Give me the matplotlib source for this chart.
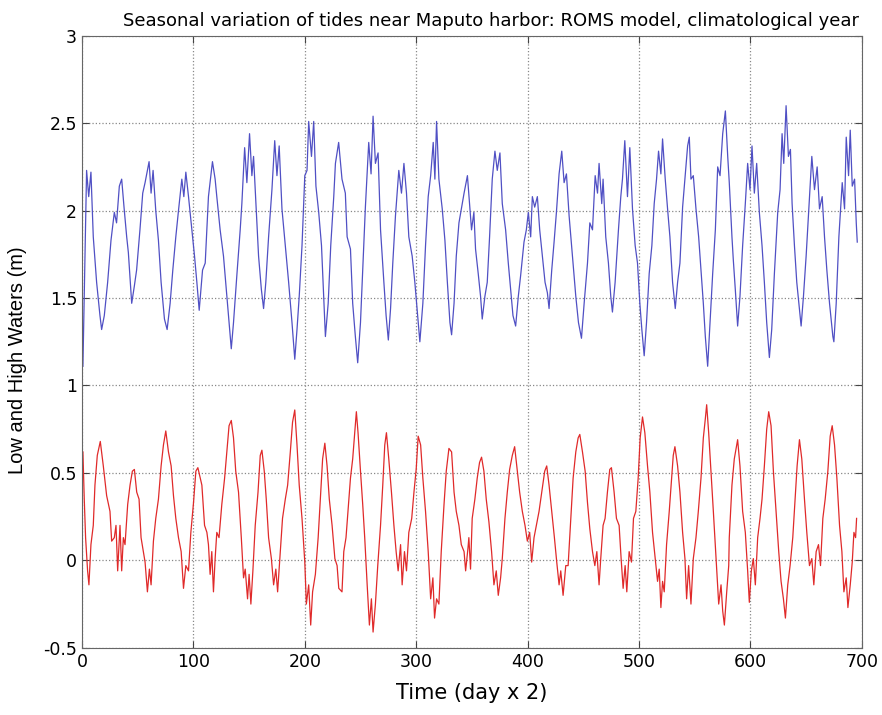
import matplotlib
matplotlib.use("Agg")
import matplotlib.pyplot as plt

# high waters (blue): time index, level (m)
high_t = [0.8, 4.1, 6, 8, 10.1, 13.1, 16.1, 17.6, 20, 23, 26, 29, 31, 33.5, 35.6, 37.7, 40.1, 41.6,
          44.6, 47, 49, 52, 54.5, 56.6, 58.1, 60.2, 62, 63.8, 66.2, 68.6, 71, 74, 76.4, 79.1, 81.5,
          84.2, 86.6, 89.6, 91.4, 93.2, 95.6, 98.6, 101, 103.1, 105.2, 108.2, 110.6,
          113.5, 117.1, 119.5, 121, 124, 127, 130, 132, 134, 136, 139, 142, 143.5, 146, 148, 150.4,
          152.5, 154, 156.4, 158.5, 161, 163, 165, 167.5, 170.5, 173, 175, 177, 179.5, 182.5, 185.5,
          188.5, 191, 193, 195, 197.5, 200, 202, 203.5, 206, 208, 210, 212.5, 215, 217, 218.5, 221,
          223.3, 226, 227.5,
          230.4, 233.4, 236.4, 238, 241, 243, 245.4, 247.5, 250, 252, 254.4, 257.4, 259.5, 261.3,
          263.4, 265.8, 268, 271, 273, 275, 277, 279, 281.4, 284.4, 286.8, 289, 291.3, 293.4, 296.4,
          298.8, 301, 303.3, 306, 308.4, 310.8, 313, 315.3, 316.8, 318.3, 320.4, 323.4, 325.8, 328,
          330.3, 331.8, 334, 336, 338.4, 340.8, 343, 346,
          349.7, 351.8, 353.3, 355.7, 357.8, 359.3, 361.7, 363.8, 365.9, 368.3, 370.7, 372.8, 375.2,
          377.3, 380.3, 382.7, 384.8, 386.9, 389.3, 391.7, 393.8, 396.8, 398.9, 400.7, 402.8, 404.3,
          406.4, 408.8, 410.9, 413.3, 415.7, 417.8, 419.3, 421.7, 423.8, 425.9, 428.3, 430.7, 432.8,
          434.9, 437.3, 440.3, 443.3, 445.7, 448.4, 450.8, 453.8, 455.9, 458.3, 460.7, 462.8,
          464.2, 466.6, 467.8, 470.2, 472.6, 474.7, 476.2, 478.6, 481.6, 483.7, 485.2, 487.3, 489.7,
          491.8, 494.2, 496.6, 498.7, 500.8, 502.6, 504.7, 506.8, 509.2, 511.6, 513.7, 515.8, 517.6,
          519.7, 521.2, 523.6, 525.7, 527.8, 530.2, 532.6, 534.7, 536.8, 539.2, 541.6, 543.7, 545.2,
          546.7, 548.8, 551.2, 553.6, 555.7, 557.8, 559.6, 561.7, 563.8, 566.2, 568.6, 570.7, 572.8,
          575.2, 577.6, 579.7,
          581.1, 583.5, 584.7, 586.5, 588.6, 590.7, 593.1, 595.5, 597.6, 599.7, 601.5, 603.6, 605.7,
          608.1, 610.5, 612.6, 614.7, 617.1, 619.2, 621.6, 624.6, 626.7, 628.5, 630, 632.1, 634.2,
          636, 637.5, 639.6, 641.7, 644.1, 645.6, 647.7, 650.1, 653.1, 655.2, 657.6, 660, 662.1,
          664.5, 666.6, 668.7, 671.1, 674.1, 675, 677.1, 679.5, 682.5, 684.6, 686.1, 688.2, 689.7,
          691.5, 693.6, 695.1, 696]
high_v = [1.11, 2.23, 2.08, 2.22, 1.85, 1.59, 1.40, 1.32, 1.40, 1.59, 1.83, 1.99, 1.93, 2.14, 2.18, 2.02, 1.85, 1.76,
          1.47, 1.57, 1.66, 1.89, 2.10, 2.16, 2.21, 2.28, 2.10, 2.23, 2.00, 1.83, 1.59, 1.38, 1.32, 1.47, 1.66,
          1.85, 2.00, 2.18, 2.08, 2.22, 2.08, 1.89, 1.74, 1.59, 1.43, 1.66, 1.70,
          2.08, 2.28, 2.18, 2.08, 1.89, 1.74, 1.51, 1.36, 1.21, 1.36, 1.63, 1.89, 2.04, 2.36, 2.16, 2.44,
          2.20, 2.31, 2.01, 1.74, 1.55, 1.44, 1.59, 1.85, 2.12, 2.40, 2.20, 2.37, 2.01, 1.80, 1.59,
          1.36, 1.15, 1.32, 1.51, 1.80, 2.20, 2.23, 2.51, 2.31, 2.51, 2.14, 1.99, 1.80, 1.51, 1.28, 1.47,
          1.80, 2.08, 2.27,
          2.39, 2.18, 2.10, 1.85, 1.78, 1.47, 1.28, 1.13, 1.36, 1.66, 2.02, 2.39, 2.21, 2.54,
          2.27, 2.33, 1.89, 1.59, 1.40, 1.26, 1.44, 1.70, 1.97, 2.23, 2.10, 2.27, 2.10, 1.85, 1.74,
          1.59, 1.42, 1.25, 1.47, 1.80, 2.08, 2.20, 2.39, 2.18, 2.51, 2.18, 2.01, 1.83, 1.59,
          1.36, 1.29, 1.47, 1.74, 1.93, 2.02, 2.10, 2.20,
          1.89, 1.99, 1.78, 1.64, 1.51, 1.38, 1.51, 1.59, 1.85, 2.18, 2.34, 2.23, 2.33,
          2.04, 1.89, 1.70, 1.55, 1.40, 1.34, 1.51, 1.63, 1.82, 1.89, 1.99, 1.85, 2.08,
          2.02, 2.08, 1.89, 1.74, 1.59, 1.53, 1.44, 1.66, 1.82, 1.99, 2.21, 2.34, 2.16,
          2.21, 1.97, 1.74, 1.51, 1.36, 1.27, 1.47, 1.70, 1.93, 1.89, 2.20, 2.10,
          2.27, 2.04, 2.18, 1.85, 1.70, 1.51, 1.42, 1.59, 1.89, 2.08, 2.18, 2.40, 2.08,
          2.36, 2.01, 1.80, 1.70, 1.47, 1.32, 1.17, 1.36, 1.64, 1.80, 2.04, 2.18, 2.34,
          2.21, 2.41, 2.18, 2.01, 1.85, 1.59, 1.44, 1.59, 1.70, 2.02, 2.21, 2.37, 2.42,
          2.18, 2.20, 2.01, 1.85, 1.66, 1.47, 1.28, 1.11, 1.36, 1.64, 1.89, 2.25, 2.20,
          2.44, 2.57, 2.31,
          2.16, 1.85, 1.72, 1.55, 1.34, 1.51, 1.80, 2.04, 2.27, 2.12, 2.37, 2.10, 2.27,
          1.99, 1.80, 1.59, 1.36, 1.16, 1.32, 1.64, 1.99, 2.12, 2.44, 2.27, 2.60, 2.31,
          2.35, 2.04, 1.80, 1.59, 1.44, 1.34, 1.51, 1.74, 2.08, 2.31, 2.12, 2.25, 2.01,
          2.08, 1.85, 1.66, 1.47, 1.28, 1.25, 1.47, 1.85, 2.16, 2.01, 2.42, 2.20, 2.46,
          2.14, 2.18, 1.93, 1.82]

# low waters (red)
low_t = [0.8, 2, 3.2, 5, 6.2, 8, 10.1, 11.6, 13.7, 16.4, 19.1, 22.1, 25.1, 26.6, 29, 30.5, 32, 34.1,
         35.6, 37.1, 38.6, 41, 43.1, 45.2, 47, 49.1, 51.2, 53, 55.1, 56.6, 58.7, 60.5, 62, 64.1,
         66.2, 68.6, 71, 73.1, 75.2, 77.6, 80, 82.1, 84.2, 86.6, 89, 91.1, 93.2, 95.6, 97.7, 100.1,
         102.2, 104, 106.1, 107.6, 110, 112.1,
         113.5, 115, 116.5, 118, 119.5, 121, 123, 125.5, 128, 130, 132, 134, 136, 138, 140.5, 143,
         145, 146.5, 148.6, 150, 151.6, 153.4, 155.5, 158, 160, 161.5, 163.6, 165.4, 167.5, 170,
         172, 174, 175.6, 178, 180, 182.5, 184.6, 187, 189, 191, 193, 195, 197.5, 200, 201.4, 203.5,
         205.3, 207, 209.5, 212, 214, 216, 218, 220, 222, 224.5, 227, 229, 230.5,
         233.4, 235, 237, 238.8, 241, 243, 244.8, 246.3, 247.8, 250, 252, 253.8, 256, 258, 259.8,
         261.3, 263.4, 265.5, 268, 270, 271.8, 273.3, 275.4, 277.8, 280, 282, 283.8, 286, 287.4,
         289.5, 291.3, 293.4, 296, 298, 300, 301.8, 304, 306, 308.4, 310.8, 313, 315, 316.5, 318.3,
         320.4, 322.5, 325, 327, 329.4, 331.8, 334, 336, 338.4, 340.5, 343, 344.4, 346.5,
         347.3, 348.8, 350.3, 352.7, 354.8, 356.9, 358.7, 360.8, 362.9, 365.3, 367.7, 369.8, 371.9,
         373.7, 375.8, 377.3, 379.7, 381.8, 383.9, 386.3, 388.4, 390.8, 392.9, 395.3, 397.7, 399.8,
         401.9, 403.7, 405.8, 407.9, 410.3, 412.7, 415.4, 417.2, 419.3, 421.7, 424.1, 426.2, 428.3,
         429.8, 431.9, 434.3, 436.4, 438.8, 440.9, 443.3, 445.4, 446.9, 449.3, 451.7, 453.8, 455.9,
         458.3, 460.4, 462.2,
         464.2, 465.7, 467.8, 469.6, 471.7, 473.8, 475.3, 477.7, 479.8, 482.2, 484, 485.8, 487.6,
         489.1, 491.2, 493.3, 495.1, 497.2, 499.3, 501.1, 503.2, 505.3, 507.7, 509.8, 512.2, 514.6,
         516.7, 518.2, 519.7, 521.2, 522.7, 524.8, 527.2, 529.3, 530.8, 532.3, 534.7, 536.8, 539.2,
         541.3, 542.8, 544.6, 546.7, 548.8, 551.2, 553.3, 555.7, 557.8, 559.6, 560.8, 562.6, 564.7,
         566.8, 569.2, 571.6, 573.7, 575.2, 576.7, 578.8, 580.6,
         581.1, 583.5, 585.6, 588.6, 590.7, 593.1, 595.5, 597.6, 599.1, 600.9, 602.7, 604.5, 606.6,
         608.7, 610.5, 612.6, 614.7, 616.5, 618.6, 620.7, 623.1, 625.5, 627.6, 629.7, 631.5, 633.6,
         635.7, 638.1, 640.2, 642, 644.1, 646.2, 648.6, 650.7, 653.1, 655.2, 657, 659.1, 661.2, 663,
         665.1, 667.2, 669.6, 671.7, 673.5, 675.6, 677.7, 680.1, 682.2, 684, 686.1, 687.6, 689.7,
         691.5, 693, 694.5, 695.4]
low_v = [0.62, 0.35, 0.13, -0.06, -0.14, 0.09, 0.20, 0.43, 0.60, 0.68, 0.54, 0.37, 0.28, 0.11, 0.13, 0.20, -0.06, 0.20,
         -0.06, 0.13, 0.09, 0.32, 0.43, 0.51, 0.52, 0.39, 0.35, 0.13, 0.05, -0.01, -0.18, -0.05, -0.14, 0.11,
         0.24, 0.35, 0.54, 0.66, 0.74, 0.62, 0.54, 0.37, 0.24, 0.13, 0.05, -0.16, -0.03, -0.06, 0.16, 0.33,
         0.51, 0.53, 0.47, 0.43, 0.20, 0.16,
         0.09, -0.08, 0.05, -0.18, 0.01, 0.16, 0.13, 0.32, 0.47, 0.62, 0.77, 0.80, 0.70, 0.51, 0.39, 0.13,
         -0.10, -0.05, -0.22, -0.08, -0.25, -0.06, 0.20, 0.39, 0.60, 0.63, 0.51, 0.35, 0.13, 0.01,
         -0.14, -0.05, -0.18, 0.05, 0.24, 0.35, 0.43, 0.62, 0.79, 0.86, 0.66, 0.43, 0.24, -0.01, -0.25, -0.14,
         -0.37, -0.18, -0.08, 0.13, 0.35, 0.58, 0.67, 0.54, 0.35, 0.20, 0.01, -0.03, -0.16,
         -0.18, 0.05, 0.13, 0.28, 0.47, 0.58, 0.73, 0.85, 0.73, 0.51, 0.32, 0.13, -0.14, -0.37, -0.22,
         -0.41, -0.25, -0.03, 0.20, 0.43, 0.66, 0.73, 0.58, 0.39, 0.20, 0.05, -0.06, 0.09, -0.14,
         0.05, -0.06, 0.16, 0.24, 0.39, 0.52, 0.71, 0.66, 0.47, 0.28, 0.05, -0.22, -0.10, -0.33, -0.22,
         -0.25, 0.05, 0.32, 0.51, 0.64, 0.62, 0.39, 0.28, 0.20, 0.09, 0.05, -0.06, 0.07,
         0.13, -0.05, 0.24, 0.35, 0.47, 0.56, 0.59, 0.51, 0.35, 0.22, 0.05, -0.14, -0.06,
         -0.20, -0.10, 0.01, 0.24, 0.39, 0.52, 0.60, 0.65, 0.51, 0.39, 0.28, 0.20, 0.11,
         0.16, -0.01, 0.13, 0.20, 0.28, 0.39, 0.51, 0.54, 0.43, 0.28, 0.13, -0.01, -0.14,
         -0.06, -0.20, -0.03, -0.03, 0.24, 0.47, 0.62, 0.70, 0.72, 0.62, 0.51, 0.33, 0.18,
         0.05, -0.03, 0.05,
         -0.14, 0.01, 0.20, 0.24, 0.39, 0.52, 0.53, 0.39, 0.24, 0.20, 0.01, -0.16, -0.03,
         -0.18, 0.05, -0.01, 0.24, 0.28, 0.47, 0.70, 0.82, 0.73, 0.54, 0.39, 0.16, 0.01,
         -0.12, -0.05, -0.27, -0.12, -0.18, 0.09, 0.28, 0.47, 0.60, 0.65, 0.54, 0.39, 0.16,
         0.01, -0.22, -0.03, -0.25, 0.01, 0.13, 0.28, 0.47, 0.70, 0.81, 0.89, 0.73, 0.51,
         0.28, 0.01, -0.25, -0.14, -0.29, -0.37, -0.18, -0.03,
         0.13, 0.43, 0.58, 0.69, 0.54, 0.28, 0.16, -0.06, -0.24, -0.06, 0.01, -0.14, 0.13,
         0.24, 0.35, 0.54, 0.75, 0.85, 0.77, 0.51, 0.28, 0.05, -0.12, -0.22, -0.33, -0.14,
         -0.03, 0.13, 0.35, 0.54, 0.69, 0.58, 0.35, 0.16, -0.03, 0.01, -0.14, 0.05, 0.09, -0.03,
         0.24, 0.35, 0.51, 0.71, 0.77, 0.66, 0.47, 0.20, 0.05, -0.18, -0.10, -0.27, -0.14,
         -0.01, 0.16, 0.13, 0.24]

y_ticks = [-0.5, 0, 0.5, 1, 1.5, 2, 2.5, 3]
y_tick_labels = ["-0.5", "0", "0.5", "1", "1.5", "2", "2.5", "3"]
x_ticks = [0, 100, 200, 300, 400, 500, 600, 700]

plt.rcParams["font.family"] = ["DejaVu Sans"]

fig = plt.figure(figsize=(8.82, 7.15), dpi=100)
ax = fig.add_axes([0.093, 0.094, 0.884, 0.856])

ax.plot(high_t, high_v, color="#5050c4", lw=0.9)
ax.plot(low_t, low_v, color="#e02a2a", lw=0.9)

ax.set_xlim(0, 700)
ax.set_ylim(-0.5, 3)
ax.set_xticks(x_ticks)
ax.set_yticks(y_ticks)
ax.set_yticklabels(y_tick_labels)
ax.tick_params(direction="in", top=True, right=True, labelsize=12.5, length=5, color="#444444")
ax.grid(True, linestyle=":", color="#888888", linewidth=0.9)
for s in ax.spines.values():
    s.set_color("#666666")

ax.set_title("Seasonal variation of tides near Maputo harbor: ROMS model, climatological year",
             fontsize=13, pad=7, x=0.524)
ax.set_xlabel("Time (day x 2)", fontsize=15, labelpad=9)
ax.set_ylabel("Low and High Waters (m)", fontsize=14.5, fontfamily="Liberation Sans")
ax.yaxis.set_label_coords(-0.071, 0.47)

fig.savefig("out.png", dpi=100)
